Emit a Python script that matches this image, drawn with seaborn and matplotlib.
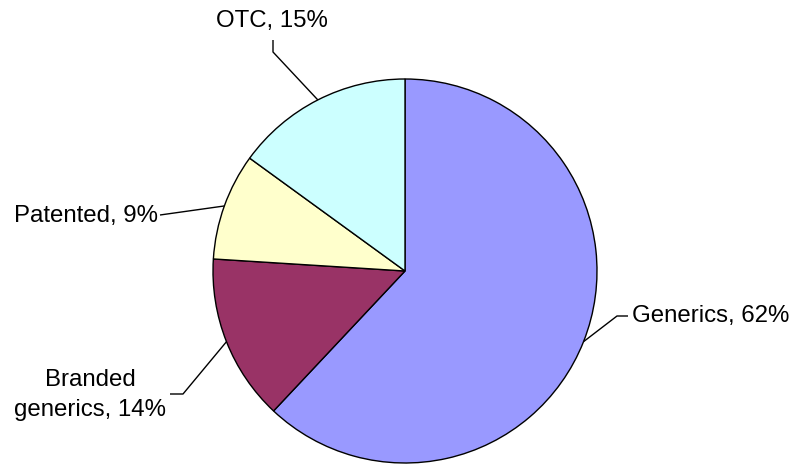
import numpy as np
import matplotlib
matplotlib.use("Agg")
import matplotlib.pyplot as plt
import seaborn as sns

# ---- data ----
categories = ["Generics", "Branded generics", "Patented", "OTC"]
shares = [62, 14, 9, 15]
colors = ["#9999FF", "#993366", "#FFFFCC", "#CCFFFF"]

sns.set_theme(style="white")
plt.rcParams['font.family'] = ['Liberation Sans', 'DejaVu Sans']

W, H = 796, 468
fig = plt.figure(figsize=(W / 100, H / 100), dpi=100)
ax = fig.add_axes([0, 0, 1, 1])

cx, cy, r = 405, H - 271, 192
wedges, _ = ax.pie(shares, colors=colors, startangle=90, counterclock=False,
                   center=(cx, cy), radius=r, frame=True,
                   wedgeprops=dict(edgecolor="black", linewidth=1.0))
ax.set_xlim(0, W)
ax.set_ylim(0, H)
ax.set_aspect("auto")
ax.axis("off")

# label layout (pixel coordinates, y from top): text pos, alignment, leader path
layout = {
    "Generics": dict(text=(632, 316), ha="left", label="Generics, {}%",
                     path=[(617, 316), (628, 316)]),
    "Branded generics": dict(text=(90, 395), ha="center", label="Branded\ngenerics, {}%",
                             path=[(183, 394), (170, 394)]),
    "Patented": dict(text=(158, 216), ha="right", label="Patented, {}%",
                     path=[(160, 215)]),
    "OTC": dict(text=(272, 21), ha="center", label="OTC, {}%",
                path=[(273, 52), (273, 40)]),
}

for w, cat, v in zip(wedges, categories, shares):
    mid = np.deg2rad((w.theta1 + w.theta2) / 2)
    ex, ey = cx + r * np.cos(mid), cy + r * np.sin(mid)
    L = layout[cat]
    xs = [ex] + [p[0] for p in L["path"]]
    ys = [ey] + [H - p[1] for p in L["path"]]
    ax.plot(xs, ys, color="black", lw=1.0, solid_capstyle="butt")
    ax.text(L["text"][0], H - L["text"][1], L["label"].format(v),
            ha=L["ha"], va="center", fontsize=17.3, color="black",
            linespacing=1.45, multialignment="center")

fig.savefig("out.png", dpi=100, facecolor="white")
